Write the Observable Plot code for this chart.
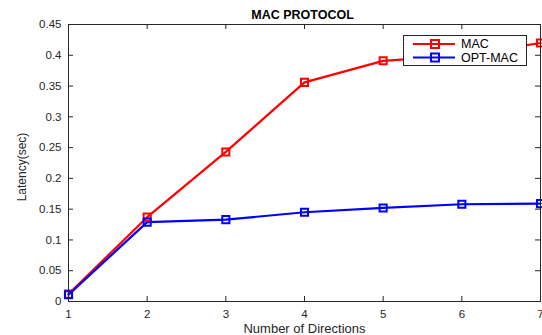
<!DOCTYPE html>
<html>
<head>
<meta charset="utf-8">
<script src="https://cdn.jsdelivr.net/npm/d3@7"></script>
<script src="https://cdn.jsdelivr.net/npm/@observablehq/plot@0.6"></script>
<style>
  html, body { margin: 0; padding: 0; background: #fff; }
  #chart { position: relative; width: 542px; height: 335px; }
</style>
</head>
<body>
<div id="chart"></div>
<script>
const directions = [1, 2, 3, 4, 5, 6, 7];
const macLatency = [0.012, 0.137, 0.243, 0.356, 0.391, 0.400, 0.420];
const optMacLatency = [0.011, 0.129, 0.133, 0.145, 0.152, 0.158, 0.159];
const xTicks = [1, 2, 3, 4, 5, 6, 7];
const yTicks = [0, 0.05, 0.1, 0.15, 0.2, 0.25, 0.3, 0.35, 0.4, 0.45];
const seriesNames = ["MAC", "OPT-MAC"];
const seriesColors = ["#ff0000", "#0000ff"];

const data = [];
directions.forEach((d, i) => {
  data.push({x: d, y: macLatency[i], s: seriesNames[0]});
  data.push({x: d, y: optMacLatency[i], s: seriesNames[1]});
});

const W = 542, H = 335;
const mL = 68, mR = 2, mT = 24, mB = 34;
const innerH = H - mT - mB, innerW = W - mL - mR;
const tk = 5;
const axisColor = "#262626";
const font = "Liberation Sans, Arial, Helvetica, sans-serif";

const plot = Plot.plot({
  width: W, height: H,
  marginLeft: mL, marginRight: mR, marginTop: mT, marginBottom: mB,
  style: {fontFamily: font, fontSize: "11px", color: axisColor, background: "#fff"},
  x: {domain: [1, 7]},
  y: {domain: [0, 0.45]},
  color: {domain: seriesNames, range: seriesColors},
  marks: [
    Plot.axisX(xTicks, {tickSize: 0, tickPadding: 8, label: null, fill: axisColor, fontSize: 11.5}),
    Plot.axisY(yTicks, {tickSize: 0, tickPadding: 7, label: null, fill: axisColor, fontSize: 11.5,
      tickFormat: d => String(+d.toFixed(2))}),
    Plot.tickX(xTicks, {x: d => d, insetTop: innerH - tk, stroke: axisColor}),
    Plot.tickX(xTicks, {x: d => d, insetBottom: innerH - tk, stroke: axisColor}),
    Plot.tickY(yTicks, {y: d => d, insetRight: innerW - tk, stroke: axisColor}),
    Plot.tickY(yTicks, {y: d => d, insetLeft: innerW - tk, stroke: axisColor}),
    Plot.lineY(data, {x: "x", y: "y", z: "s", stroke: "s", strokeWidth: 2.2}),
    Plot.dot(data, {x: "x", y: "y", stroke: "s", symbol: "square", r: 4, fill: "none", strokeWidth: 2}),
    Plot.frame({stroke: axisColor, strokeWidth: 1}),
    Plot.text(["MAC PROTOCOL"], {frameAnchor: "top", lineAnchor: "middle", dy: -10, dx: -2,
      fontWeight: "bold", fontSize: 12.5, fill: "#000"}),
    Plot.text(["Number of Directions"], {frameAnchor: "bottom", lineAnchor: "middle", dy: 27,
      fontSize: 13, fill: axisColor}),
    Plot.text(["Latency(sec)"], {frameAnchor: "left", lineAnchor: "middle", textAnchor: "middle",
      rotate: -90, dx: -46, dy: 4, fontSize: 12, fill: axisColor})
  ]
});

document.getElementById("chart").appendChild(plot);

const svg = d3.select(plot);
const lg = svg.append("g").attr("font-family", font).attr("font-size", 12.5).attr("text-anchor", "start");
lg.append("rect").attr("x", 403.5).attr("y", 35.5).attr("width", 123).attr("height", 30)
  .attr("fill", "#fff").attr("stroke", axisColor).attr("stroke-width", 1);
seriesNames.forEach((name, i) => {
  const y = 44 + i * 13.5;
  lg.append("line").attr("x1", 413).attr("x2", 455).attr("y1", y).attr("y2", y)
    .attr("stroke", seriesColors[i]).attr("stroke-width", 2);
  lg.append("rect").attr("x", 431).attr("y", y - 4).attr("width", 8).attr("height", 8)
    .attr("fill", "none").attr("stroke", seriesColors[i]).attr("stroke-width", 2);
  lg.append("text").attr("x", 461).attr("y", y).attr("dy", "0.35em")
    .attr("text-anchor", "start").attr("fill", "#000").text(name);
});
</script>
</body>
</html>
